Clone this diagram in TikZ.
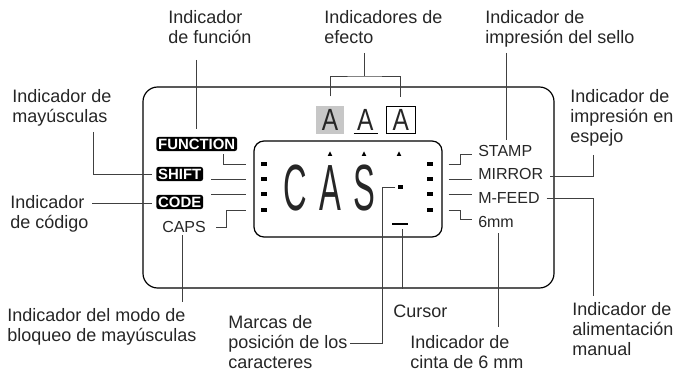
\documentclass[tikz,border=0pt]{standalone}
\usepackage{fontspec}
\setmainfont{Liberation Sans}
\usepackage{tikz}
\usetikzlibrary{positioning}

\begin{document}
\begin{tikzpicture}[x=0.75pt,y=-0.75pt,
  every node/.style={text=black!85},
  callout/.style={align=left, anchor=base west, inner sep=0pt, font=\fontsize{13.5}{15}\selectfont},
  tag/.style={fill=black, text=white, rounded corners=2pt, inner sep=1.4pt, anchor=west,
              font=\bfseries\fontsize{11.2}{12}\selectfont},
  ind/.style={anchor=base west, inner sep=0pt, font=\fontsize{12}{14}\selectfont},
  leader/.style={black!75, line width=0.7pt},
  posmark/.style={fill=black, minimum width=4.5pt, minimum height=3.2pt, inner sep=0pt},
  lcdchar/.style={inner sep=0pt, font=\fontsize{49}{50}\selectfont},
  fxchar/.style={inner sep=0pt, font=\fontsize{23}{25}\selectfont}]
\useasboundingbox (0,0) rectangle (678,370);

% panel and display
\node[draw,
      line width=0.9pt,
      rounded corners=11pt,
      minimum width=308.25pt,
      minimum height=150.75pt
     ]
     (panel) at (348.5,187.5) {};
\node[draw,
      line width=0.9pt,
      rounded corners=7.5pt,
      minimum width=141pt,
      minimum height=72pt
     ]
     (lcd) at (348,189) {};

\node[lcdchar] (chC) at (295,188.5) {\scalebox{0.5}[1]{C}};
\node[lcdchar] (chA) at (330,188.5) {\scalebox{0.5}[1]{A}};
\node[lcdchar] (chS) at (364,188.5) {\scalebox{0.5}[1]{S}};
\foreach \x in {330,364,399}
  \fill (\x-2.3,156) -- (\x+2.3,156) -- (\x,151.5) -- cycle;
\node[fill=black, minimum size=3.2pt, inner sep=0pt] (posSq) at (400.5,187) {};
\node[fill=black, minimum width=12pt, minimum height=1.6pt, inner sep=0pt] (cursor) at (400,224) {};

\foreach \y [count=\i] in {164,179,194,210} {
  \node[posmark] (lm\i) at (264,\y) {};
  \node[posmark] (rm\i) at (430,\y) {};
}

% effect indicators
\node[fxchar,
      fill=black!22,
      minimum width=21pt,
      minimum height=21pt
     ]
     (fx1) at (330,120) {\scalebox{0.8}[1]{A}};
\node[fxchar, right=9.5pt of fx1] (fx2) {\scalebox{0.8}[1]{A}};
\draw[line width=1pt] ([yshift=-2pt]fx2.south west) ++(-2.5pt,0) -- ++(18pt,0);
\node[fxchar,
      draw,
      line width=0.8pt,
      minimum width=21.75pt,
      minimum height=20.25pt,
      right=9pt of fx2
     ]
     (fx3) {\scalebox{0.8}[1]{A}};

% indicators round the display
\node[tag] (fnTag) at (156,144) {FUNCTION};
\node[tag] (shiftTag) at (156,174) {SHIFT};
\node[tag] (codeTag) at (156,202) {CODE};
\node[ind] (capsInd) at (162,233) {CAPS};
\node[ind] (stampInd) at (478,157) {STAMP};
\node[ind] (mirrorInd) at (478,180) {MIRROR};
\node[ind] (mfeedInd) at (478,204) {M-FEED};
\node[ind] (mmInd) at (478,228) {6mm};

\draw[leader, shorten <=2pt] (fnTag.south -| 223,0) |- ([xshift=-5.25pt]lcd.west |- lm1);
\draw[leader] ([xshift=6pt]shiftTag.east |- lm2) -- ([xshift=-5.25pt]lcd.west |- lm2);
\draw[leader] ([xshift=6pt]codeTag.east |- lm3) -- ([xshift=-5.25pt]lcd.west |- lm3);
\draw[leader] ([xshift=7.5pt]capsInd.east) -- ++(7.5pt,0) |- ([xshift=-5.25pt]lcd.west |- lm4);
\draw[leader] ([xshift=4.5pt]lcd.east |- rm1) -- ++(9pt,0) |- ([xshift=-4.5pt,yshift=-2.6pt]stampInd.west);
\draw[leader] ([xshift=4.5pt]lcd.east |- rm2) -- ([xshift=-4.5pt]mirrorInd.west |- rm2);
\draw[leader] ([xshift=4.5pt]lcd.east |- rm3) -- ([xshift=-4.5pt]mfeedInd.west |- rm3);
\draw[leader] ([xshift=4.5pt]lcd.east |- rm4) -- ++(9pt,0) |- ([xshift=-4.5pt,yshift=2.3pt]mmInd.west);

% callouts (anchored at the baseline of their last line)
\node[callout] (funcLbl) at (168,44) {Indicador\\de función};
\node[callout] (effectLbl) at (324,44) {Indicadores de\\efecto};
\node[callout] (stampLbl) at (485,44) {Indicador de\\impresión del sello};
\node[callout] (mirrorLbl) at (570,143) {Indicador de\\impresión en\\espejo};
\node[callout] (shiftLbl) at (12,123) {Indicador de\\mayúsculas};
\node[callout] (codeLbl) at (10,229) {Indicador\\de código};
\node[callout] (capsLbl) at (7,341) {Indicador del modo de\\bloqueo de mayúsculas};
\node[callout] (marcasLbl) at (228,368) {Marcas de\\posición de los\\caracteres};
\node[callout] (cursorLbl) at (393,317) {Cursor};
\node[callout] (mmLbl) at (410,368) {Indicador de\\cinta de 6 mm};
\node[callout] (mfeedLbl) at (572,355) {Indicador de\\alimentación\\manual};

\coordinate (fnTop) at (196,60);
\coordinate (brk) at (364,76);
\coordinate (fxTop) at (364,53);
\coordinate (stTop) at (506,53);
\coordinate (mrTop) at (593,155);
\coordinate (mfBot) at (593,296);
\coordinate (mmBot) at (498,327);
\coordinate (curBot) at (402,289);
\coordinate (pmBend) at (382,343);
\coordinate (capsBot) at (182,302);
\coordinate (shTop) at (93,132);
\coordinate (cdStart) at (92,203);

\draw[leader, shorten >=6pt] (fnTop) -- (fnTop |- fnTag.north);
\draw[leader] (fxTop) -- (brk);
\draw[leader, shorten <=7pt, shorten >=7pt] (fx1.north) |- (brk) -| (fx3.north);
\draw[leader, shorten >=4pt] (stTop) -- (stTop |- stampInd.north);
\draw[leader] (mrTop) |- ([xshift=5pt,yshift=-1.5pt]mirrorInd.east);
\draw[leader] ([xshift=5pt]mfeedInd.east) -| (mfBot);
\draw[leader, shorten <=3.75pt] (mmInd.south -| mmBot) -- (mmBot);
\draw[leader, shorten <=3pt] (cursor.south -| curBot) -- (curBot);
\draw[leader, shorten <=2pt] (posSq.west) -- (pmBend |- posSq) -- (pmBend) -- ([xshift=1.5pt]marcasLbl.east |- pmBend);
\draw[leader, shorten <=1.5pt] (capsInd.south -| capsBot) -- (capsBot);
\draw[leader] (shTop) |- ([xshift=-3pt]shiftTag.west);
\draw[leader, shorten >=3pt] (cdStart) -- (cdStart -| codeTag.west);

\end{tikzpicture}
\end{document}
